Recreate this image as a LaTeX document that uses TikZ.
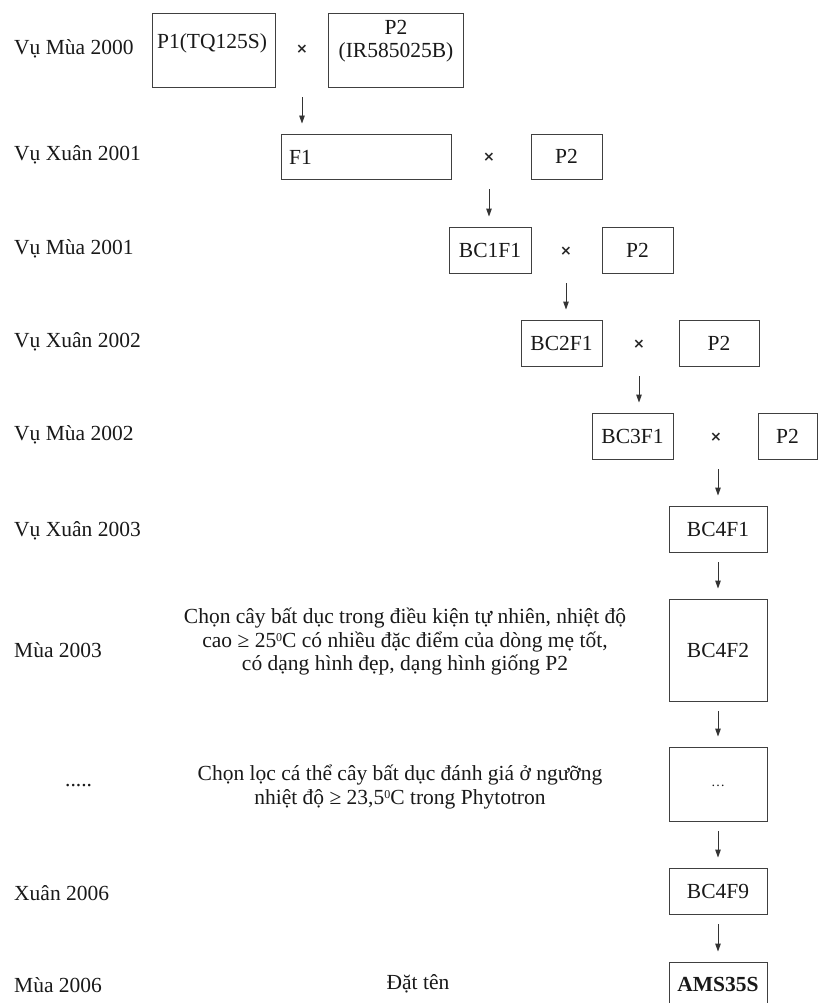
\documentclass[tikz,border=0pt]{standalone}
\usepackage{fontspec}
\setmainfont{Liberation Serif}
\newfontfamily\symsans{DejaVu Sans}
\usetikzlibrary{arrows.meta}
\newcommand{\supz}{\raisebox{0.62ex}{\fontsize{12}{12}\selectfont 0}}
\begin{document}
\begin{tikzpicture}[x=1pt,y=-1pt,
  every node/.style={font=\fontsize{21.5}{23.5}\selectfont, text=black!90, inner sep=0pt},
  box/.style={draw=black!75, line width=0.9pt},
  cross/.style={font=\symsans\bfseries\fontsize{14}{14}\selectfont, text=black!85},
  arr/.style={draw=black!80, line width=0.9pt, -{Triangle[length=8pt,width=5.5pt]}, shorten <=10pt, shorten >=10pt},
  lbl/.style={anchor=west}
]
\useasboundingbox (0,0) rectangle (818,1003);
\clip (0,0) rectangle (818,1003);
\fill[white] (0,0) rectangle (818,1003);

% left labels
\node[lbl] (l1) at (14,49) {Vụ Mùa 2000};
\node[lbl] (l2) at (14,155) {Vụ Xuân 2001};
\node[lbl] (l3) at (14,249) {Vụ Mùa 2001};
\node[lbl] (l4) at (14,342) {Vụ Xuân 2002};
\node[lbl] (l5) at (14,435) {Vụ Mùa 2002};
\node[lbl] (l6) at (14,531) {Vụ Xuân 2003};
\node[lbl] (l7) at (14,650) {Mùa 2003};
\node[lbl] (l8) at (65,786) {.....};
\node[lbl] (l9) at (14,893) {Xuân 2006};
\node[lbl] (l10) at (14,985) {Mùa 2006};

% row 1
\node[box, minimum width=123pt, minimum height=74pt] (P1) at (213.5,50) {};
\node (P1t) at (212,43) {P1(TQ125S)};
\node[cross] (x1) at (302,49) {×};
\node[box, minimum width=135pt, minimum height=74pt] (P2a) at (395.5,50) {};
\node[align=center] (P2at) at (396,41) {P2\\(IR585025B)};

% row 2
\node[box, minimum width=170pt, minimum height=45pt] (F1) at (366,156.5) {};
\node[anchor=west] (F1t) at (289,157) {F1};
\node[cross] (x2) at (489,157) {×};
\node[box, minimum width=71pt, minimum height=45pt] (P2b) at (566.5,156.5) {P2};

% row 3
\node[box, minimum width=82pt, minimum height=46pt] (BC1) at (490,250) {BC1F1};
\node[cross] (x3) at (566,251) {×};
\node[box, minimum width=71pt, minimum height=46pt] (P2c) at (637.5,250) {P2};

% row 4
\node[box, minimum width=81pt, minimum height=46pt] (BC2) at (561.5,343) {BC2F1};
\node[cross] (x4) at (639,344) {×};
\node[box, minimum width=80pt, minimum height=46pt] (P2d) at (719,343) {P2};

% row 5
\node[box, minimum width=81pt, minimum height=46pt] (BC3) at (632.5,436) {BC3F1};
\node[cross] (x5) at (716,437) {×};
\node[box, minimum width=59pt, minimum height=46pt] (P2e) at (787.5,436) {P2};

% column
\node[box, minimum width=98pt, minimum height=46pt] (BC41) at (718,529) {BC4F1};
\node[box, minimum width=98pt, minimum height=102pt] (BC42) at (718,650) {BC4F2};
\node[box, minimum width=98pt, minimum height=74pt] (BCd) at (718,784) {};
\node (BCdt) at (718,786) {\fontsize{14}{14}\selectfont …};
\node[box, minimum width=98pt, minimum height=46pt] (BC49) at (718,891) {BC4F9};
\node[box, minimum width=98pt, minimum height=50pt] (AMS) at (718,987) {};
\node[font=\fontsize{21.5}{24}\selectfont\bfseries] (AMSt) at (718,984) {AMS35S};

% middle texts
\node[align=center] (t1) at (405,642) {Chọn cây bất dục trong điều kiện tự nhiên, nhiệt độ\\cao ≥ 25\supz C có nhiều đặc điểm của dòng mẹ tốt,\\có dạng hình đẹp, dạng hình giống P2};
\node[align=center] (t2) at (400,787) {Chọn lọc cá thể cây bất dục đánh giá ở ngưỡng\\nhiệt độ ≥ 23,5\supz C trong Phytotron};
\node (t3) at (418,984) {Đặt tên};

% arrows
\draw[arr] (P1.south -| x1) -- (F1.north -| x1);
\draw[arr] (F1.south -| x2) -- (BC1.north -| x2);
\draw[arr] (BC1.south -| x3) -- (BC2.north -| x3);
\draw[arr] (BC2.south -| x4) -- (BC3.north -| x4);
\draw[arr] (BC3.south -| BC41.north) -- (BC41.north);
\draw[arr] (BC41) -- (BC42);
\draw[arr] (BC42) -- (BCd);
\draw[arr] (BCd) -- (BC49);
\draw[arr] (BC49) -- (AMS);
\end{tikzpicture}
\end{document}
